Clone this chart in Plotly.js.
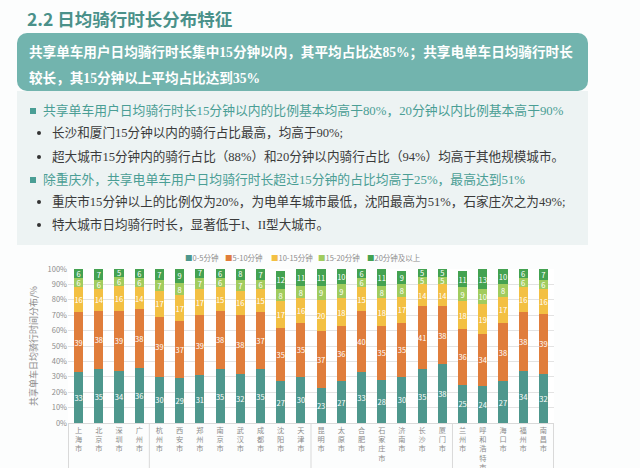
<!DOCTYPE html>
<html><head><meta charset="utf-8">
<script src="https://cdn.plot.ly/plotly-3.0.1.min.js"></script>
<style>
html,body{margin:0;padding:0;background:#fff;}
#page{position:relative;width:640px;height:468px;overflow:hidden;background:#fcfdfd;}
.t{position:absolute;white-space:nowrap;font-family:"Liberation Serif","Noto Sans CJK SC",serif;}
#title{left:27px;top:6px;font-family:"Noto Sans CJK SC",sans-serif;font-weight:bold;font-size:17.5px;line-height:26px;color:#4a918a;}
#box{position:absolute;left:17px;top:33px;width:571px;height:58px;background:#72b4ae;border-radius:10px;}
#panel{position:absolute;left:17px;top:91px;width:571px;height:154px;background:#edf3f3;}
.bx{color:#fff;font-weight:bold;font-size:13.6px;line-height:25px;left:29px;}
.l1{color:#4a9e95;font-size:12.8px;line-height:22px;left:43px;}
.l2{color:#3a3a3a;font-size:12.6px;line-height:22px;left:52px;}
.sq{position:absolute;width:6px;height:6px;background:#4a9e95;left:30px;}
.dot{position:absolute;width:4px;height:4px;border-radius:2px;background:#333;left:37px;}
#chart{position:absolute;left:0;top:240px;width:640px;height:228px;}
</style></head>
<body>
<div id="page">
  <div class="t" id="title">2.2 日均骑行时长分布特征</div>
  <div id="box"></div>
  <div id="panel"></div>
  <div class="t bx" style="top:40px;">共享单车用户日均骑行时长集中15分钟以内，其平均占比达85%；共享电单车日均骑行时长</div>
  <div class="t bx" style="top:66px;">较长，其15分钟以上平均占比达到35%</div>

  <div class="sq" style="top:108px;"></div>
  <div class="t l1" style="top:100px;">共享单车用户日均骑行时长15分钟以内的比例基本均高于80%，20分钟以内比例基本高于90%</div>
  <div class="dot" style="top:131px;"></div>
  <div class="t l2" style="top:122px;">长沙和厦门15分钟以内的骑行占比最高，均高于90%;</div>
  <div class="dot" style="top:155px;"></div>
  <div class="t l2" style="top:146px;">超大城市15分钟内的骑行占比（88%）和20分钟以内骑行占比（94%）均高于其他规模城市。</div>
  <div class="sq" style="top:177px;"></div>
  <div class="t l1" style="top:169px;">除重庆外，共享电单车用户日均骑行时长超过15分钟的占比均高于25%，最高达到51%</div>
  <div class="dot" style="top:200px;"></div>
  <div class="t l2" style="top:191px;">重庆市15分钟以上的比例仅为20%，为电单车城市最低，沈阳最高为51%，石家庄次之为49%;</div>
  <div class="dot" style="top:223px;"></div>
  <div class="t l2" style="top:214px;">特大城市日均骑行时长，显著低于I、II型大城市。</div>

  <div id="chart"></div>
</div>
<script>
const cities = ['上海市','北京市','深圳市','广州市','杭州市','西安市','郑州市','南京市','武汉市','成都市','沈阳市','天津市','昆明市','太原市','合肥市','石家庄市','济南市','长沙市','厦门市','兰州市','呼和浩特市','海口市','福州市','南昌市'];
const seriesNames = ['0-5分钟','5-10分钟','10-15分钟','15-20分钟','20分钟及以上'];
const v0to5   = [33,35,34,36,30,29,31,35,32,35,27,30,23,27,33,28,30,35,38,25,24,27,34,32];
const v5to10  = [39,38,39,38,39,37,39,38,38,37,35,35,37,36,40,35,35,41,38,36,34,38,38,39];
const v10to15 = [16,14,16,14,17,17,17,15,16,15,17,16,20,18,15,18,17,14,14,18,19,17,16,16];
const v15to20 = [6,6,6,6,7,8,7,6,7,6,8,8,9,9,6,8,8,5,5,9,10,8,6,6];
const v20plus = [6,7,5,6,7,9,7,6,8,7,12,11,11,10,6,11,9,5,5,11,13,10,6,7];
const yTicks = [0,10,20,30,40,50,60,70,80,90,100];
const groupBreaks = [-0.5,3.5,11.5,18.5,23.5];
const colors = ['#4e978d','#e07d3b','#f3c043','#a1cc5e','#44a251'];
const legendX = [0.238,0.322,0.415,0.513,0.614];
const allVals = [v0to5,v5to10,v10to15,v15to20,v20plus];

const traces = allVals.map((vals,i)=>({
  type:'bar', x:cities, y:vals, name:seriesNames[i], showlegend:false,
  marker:{color:colors[i]}, text:vals.map(String), textposition:'inside',
  insidetextanchor:'middle', constraintext:'none', textangle:0,
  textfont:{color:'#ffffff',size:7.5,family:'Noto Sans CJK SC, sans-serif'},
  hoverinfo:'skip'
}));

const shapes = groupBreaks.map(b=>({
  type:'line', xref:'x', yref:'paper', x0:b, x1:b, y0:0, y1:-0.3,
  line:{color:'#d9d9d9',width:1}
}));

const annotations = seriesNames.map((n,i)=>({
  xref:'paper', yref:'paper', x:legendX[i], y:1.072, xanchor:'left', yanchor:'middle',
  showarrow:false, borderpad:0,
  text:'<span style="color:'+colors[i]+'">■</span>'+n,
  font:{size:7.5,color:'#8c8c8c',family:'Noto Sans CJK SC, sans-serif'}
}));

const layout = {
  width:640, height:228,
  margin:{l:68,r:86,t:29,b:45},
  paper_bgcolor:'rgba(0,0,0,0)', plot_bgcolor:'#ffffff',
  barmode:'stack', bargap:0.55, showlegend:false,
  font:{family:'Noto Sans CJK SC, sans-serif',color:'#8c8c8c',size:8},
  xaxis:{
    tickvals:cities, ticktext:cities.map(c=>c.split('').join('<br>')),
    tickangle:0, tickfont:{size:7.2,color:'#8c8c8c'}, showline:true, linecolor:'#d9d9d9',
    ticks:'', showgrid:false, fixedrange:true
  },
  yaxis:{
    range:[0,100], tickvals:yTicks, ticktext:yTicks.map(v=>v+'%'),
    tickfont:{size:7.5,color:'#8c8c8c'}, gridcolor:'#e3e3e3', zeroline:false, showline:false,
    title:{text:'共享单车日均骑行时间分布/%',font:{size:9,color:'#8c8c8c'},standoff:8}
  },
  annotations:annotations,
  shapes:shapes
};
Plotly.newPlot('chart',traces,layout,{staticPlot:true,displayModeBar:false});
</script>
</body></html>
